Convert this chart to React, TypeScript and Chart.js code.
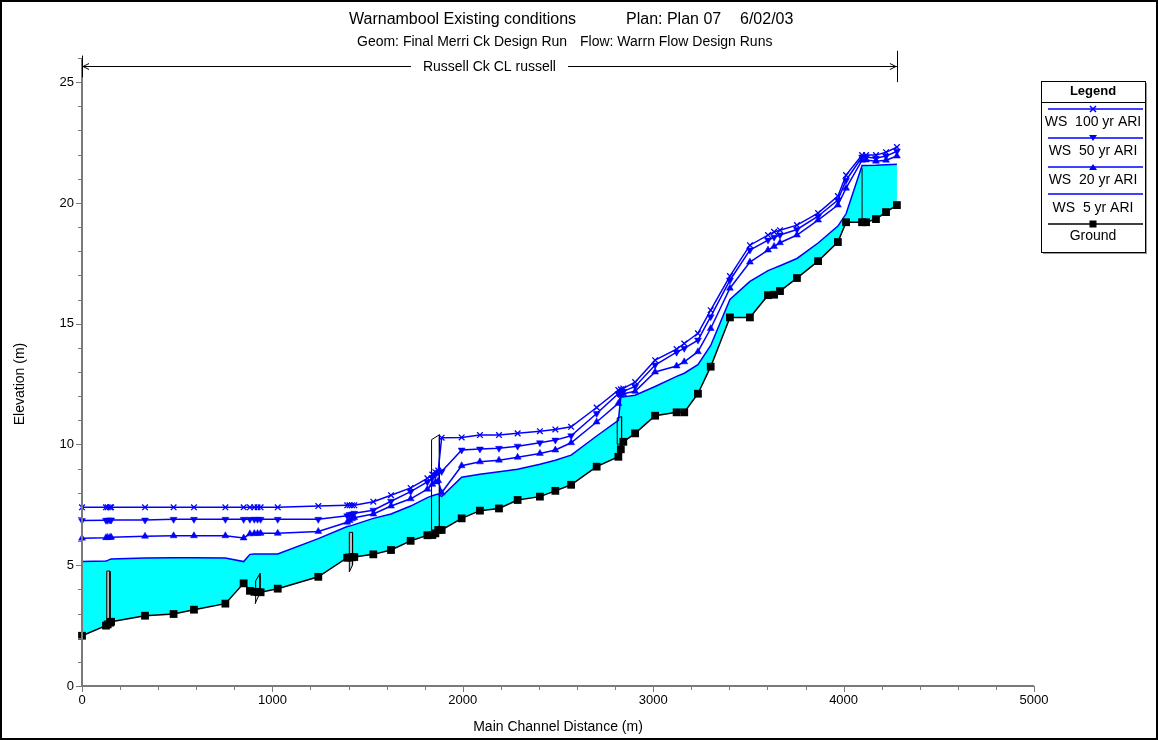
import React, { useEffect, useRef } from 'react';
import { Chart, registerables } from 'chart.js';

Chart.register(...registerables);

// ---- Data (main channel distance in m, elevation in m) ----
const stations = [
  0, 126, 135, 147, 153, 331, 481, 588, 753, 849, 882, 905, 922, 938, 1028, 1241,
  1393, 1405, 1418, 1430, 1530, 1623, 1726, 1814, 1840, 1856, 1871, 1889, 1994, 2090,
  2190, 2288, 2405, 2486, 2569, 2703, 2817, 2830, 2843, 2905, 3010, 3123, 3163, 3235,
  3302, 3403, 3508, 3603, 3635, 3666, 3755, 3866, 3970, 4013, 4097, 4118, 4170, 4223, 4280,
];
const ground = [
  2.08, 2.5, 2.55, 2.62, 2.66, 2.91, 2.98, 3.16, 3.41, 4.25, 3.94, 3.9, 3.89, 3.88, 4.03, 4.52,
  5.31, 5.32, 5.33, 5.34, 5.45, 5.63, 6.01, 6.24, 6.25, 6.32, 6.46, 6.46, 6.94, 7.26,
  7.35, 7.7, 7.84, 8.08, 8.33, 9.08, 9.49, 9.8, 10.11, 10.46, 11.19, 11.33, 11.33, 12.1,
  13.22, 15.26, 15.26, 16.18, 16.2, 16.35, 16.89, 17.59, 18.38, 19.2, 19.2, 19.2, 19.33, 19.62, 19.91,
];
const ws5 = [
  5.15, 5.18, 5.2, 5.24, 5.26, 5.3, 5.31, 5.31, 5.3, 5.15, 5.45, 5.46, 5.46, 5.46, 5.47, 6.1,
  6.6, 6.62, 6.65, 6.68, 6.94, 7.12, 7.45, 7.8, 7.88, 7.92, 7.95, 7.84, 8.64, 8.77,
  8.87, 8.97, 9.18, 9.35, 9.56, 10.35, 11.0, 11.95, 11.97, 12.04, 12.4, 12.82, 12.95, 13.3,
  14.1, 16.0, 16.75, 17.2, 17.3, 17.4, 17.7, 18.34, 19.04, 19.55, 21.55, 21.55, 21.56, 21.58, 21.6,
];
const ws20 = [
  6.12, 6.14, 6.15, 6.15, 6.16, 6.2, 6.22, 6.22, 6.22, 6.13, 6.3, 6.31, 6.31, 6.32, 6.32, 6.4,
  6.78, 6.85, 6.92, 6.97, 7.12, 7.45, 7.75, 8.15, 8.35, 8.45, 8.5, 8.0, 9.12, 9.28,
  9.35, 9.47, 9.63, 9.77, 10.07, 10.93, 11.7, 12.05, 12.1, 12.2, 13.0, 13.25, 13.42, 13.84,
  14.8, 16.47, 17.55, 18.05, 18.2, 18.35, 18.67, 19.29, 19.91, 20.61, 21.77, 21.78, 21.73, 21.77, 21.94,
];
const ws50 = [
  6.85, 6.86, 6.86, 6.87, 6.87, 6.87, 6.9, 6.9, 6.9, 6.9, 6.9, 6.9, 6.9, 6.9, 6.9, 6.9,
  7.05, 7.1, 7.12, 7.15, 7.28, 7.65, 8.05, 8.45, 8.62, 8.75, 8.85, 8.88, 9.77, 9.81,
  9.84, 9.93, 10.07, 10.18, 10.36, 11.28, 12.1, 12.15, 12.2, 12.4, 13.29, 13.82, 13.98, 14.32,
  15.29, 16.8, 18.05, 18.46, 18.58, 18.67, 18.9, 19.45, 20.12, 20.94, 21.9, 21.9, 21.85, 21.94, 22.14,
];
const ws100 = [
  7.4, 7.4, 7.4, 7.4, 7.4, 7.4, 7.4, 7.4, 7.4, 7.4, 7.4, 7.4, 7.4, 7.4, 7.4, 7.45,
  7.48, 7.48, 7.48, 7.48, 7.63, 7.9, 8.2, 8.6, 8.75, 8.85, 8.92, 10.28, 10.29, 10.39,
  10.39, 10.46, 10.55, 10.62, 10.73, 11.53, 12.25, 12.28, 12.32, 12.58, 13.49, 13.95, 14.18, 14.6,
  15.56, 16.97, 18.25, 18.67, 18.8, 18.87, 19.08, 19.58, 20.28, 21.15, 21.98, 21.98, 21.98, 22.1, 22.31,
];

// structure outlines (culverts / bridges), [distance, elevation]
const culvertA = [[130, 2.52], [130, 4.76], [147, 4.76], [147, 2.62], [130, 2.52]];
const culvertB = [[909, 3.42], [912, 4.35], [935, 4.66], [935, 3.85], [909, 3.42]];
const culvertC = [[1404, 4.73], [1404, 6.36], [1421, 6.36], [1421, 5.0], [1404, 4.73]];
const bridgeD = [[1836, 6.25], [1836, 10.2], [1877, 10.4], [1877, 6.46]];
const culvertE = [[2811, 10.0], [2811, 11.1], [2834, 11.15], [2834, 10.05], [2811, 10.0]];
const bridgeF = [[4097, 19.2], [4097, 21.44]];

const xTicks = [0, 1000, 2000, 3000, 4000, 5000];
const yTicks = [0, 5, 10, 15, 20, 25];
const legendLabels = ['WS  100 yr ARI', 'WS  50 yr ARI', 'WS  20 yr ARI', 'WS  5 yr ARI', 'Ground'];
const titleParts = ['Warnambool Existing conditions', 'Plan: Plan 07', '6/02/03'];
const subtitleParts = ['Geom: Final Merri Ck Design Run', 'Flow: Warrn Flow Design Runs'];
const reachLabel = 'Russell Ck CL russell';
const xTitle = 'Main Channel Distance (m)';
const yTitle = 'Elevation (m)';

const FONT = '"Liberation Sans", Arial, sans-serif';
const BLUE = '#0000FF';

const pts = (xs: number[], ys: number[]) => xs.map((x, i) => ({ x, y: ys[i] }));
const pairPts = (arr: number[][]) => arr.map(([x, y]) => ({ x, y }));

function drawMarker(ctx: CanvasRenderingContext2D, kind: string, x: number, y: number, color: string) {
  ctx.save();
  ctx.fillStyle = color;
  ctx.strokeStyle = color;
  ctx.lineWidth = 1.5;
  ctx.beginPath();
  if (kind === 'x') {
    ctx.moveTo(x - 3, y - 3); ctx.lineTo(x + 3, y + 3);
    ctx.moveTo(x + 3, y - 3); ctx.lineTo(x - 3, y + 3);
    ctx.stroke();
  } else if (kind === 'down') {
    ctx.moveTo(x - 4, y - 3); ctx.lineTo(x + 4, y - 3); ctx.lineTo(x, y + 3); ctx.closePath(); ctx.fill();
  } else if (kind === 'up') {
    ctx.moveTo(x - 4, y + 3); ctx.lineTo(x + 4, y + 3); ctx.lineTo(x, y - 3); ctx.closePath(); ctx.fill();
  } else if (kind === 'sq') {
    ctx.fillRect(x - 3.5, y - 3.5, 7, 7);
  }
  ctx.restore();
}

const decor = {
  id: 'decor',
  afterDraw(chart: any) {
    const { ctx } = chart;
    const xs = chart.scales.x;
    const ys = chart.scales.y;
    ctx.save();
    // outer frame
    ctx.strokeStyle = '#000';
    ctx.lineWidth = 2;
    ctx.strokeRect(1, 1, chart.width - 2, chart.height - 2);

    // axes
    ctx.strokeStyle = '#7a7a7a';
    ctx.lineWidth = 2;
    ctx.beginPath();
    ctx.moveTo(xs.left, ys.top);
    ctx.lineTo(xs.left, ys.bottom);
    ctx.lineTo(xs.right, ys.bottom);
    ctx.stroke();
    ctx.lineWidth = 1;
    ctx.beginPath();
    for (let v = 0; v <= 26; v++) {
      const py = Math.round(ys.getPixelForValue(v)) + 0.5;
      const len = v % 5 === 0 ? 6 : 4;
      ctx.moveTo(xs.left - len, py);
      ctx.lineTo(xs.left, py);
    }
    for (let v = 0; v <= 5000; v += 200) {
      const px = Math.round(xs.getPixelForValue(v)) + 0.5;
      const len = v % 1000 === 0 ? 6 : 4;
      ctx.moveTo(px, ys.bottom);
      ctx.lineTo(px, ys.bottom + len);
    }
    ctx.stroke();

    // titles
    ctx.fillStyle = '#000';
    ctx.textBaseline = 'middle';
    ctx.textAlign = 'left';
    ctx.font = `16px ${FONT}`;
    ctx.fillText(titleParts[0], 349, 20);
    ctx.fillText(titleParts[1], 626, 20);
    ctx.fillText(titleParts[2], 740, 20);
    ctx.font = `14px ${FONT}`;
    ctx.fillText(subtitleParts[0], 357, 42);
    ctx.fillText(subtitleParts[1], 580, 42);

    // reach annotation
    const x0 = xs.getPixelForValue(stations[0]);
    const x1 = xs.getPixelForValue(stations[stations.length - 1]);
    const ay = Math.round(ys.getPixelForValue(25.65)) + 0.5;
    const midX = (x0 + x1) / 2;
    ctx.font = `14px ${FONT}`;
    const tw = ctx.measureText(reachLabel).width;
    ctx.strokeStyle = '#000';
    ctx.lineWidth = 1;
    ctx.beginPath();
    ctx.moveTo(x0, ay); ctx.lineTo(midX - tw / 2 - 12, ay);
    ctx.moveTo(midX + tw / 2 + 12, ay); ctx.lineTo(x1, ay);
    // arrow heads
    ctx.moveTo(x0 + 7, ay - 3); ctx.lineTo(x0 + 1, ay); ctx.lineTo(x0 + 7, ay + 3);
    ctx.moveTo(x1 - 7, ay - 3); ctx.lineTo(x1 - 1, ay); ctx.lineTo(x1 - 7, ay + 3);
    ctx.stroke();
    ctx.beginPath();
    ctx.moveTo(Math.round(x0) + 0.5, ys.getPixelForValue(26.1));
    ctx.lineTo(Math.round(x0) + 0.5, ys.getPixelForValue(25.2));
    ctx.moveTo(Math.round(x1) + 0.5, ys.getPixelForValue(26.3));
    ctx.lineTo(Math.round(x1) + 0.5, ys.getPixelForValue(25.0));
    ctx.stroke();
    ctx.textAlign = 'center';
    ctx.fillText(reachLabel, midX, ay + 1);

    // axis titles
    ctx.font = `14px ${FONT}`;
    ctx.fillText(xTitle, (xs.left + xs.right) / 2, 727);
    ctx.save();
    ctx.translate(20, 384);
    ctx.rotate(-Math.PI / 2);
    ctx.fillText(yTitle, 0, 0);
    ctx.restore();

    // legend box
    const L = 1041, T = 81, R = 1145, B = 252;
    ctx.fillStyle = '#9a9a9a';
    ctx.fillRect(L + 2, T + 2, R - L, B - T);
    ctx.fillStyle = '#fff';
    ctx.fillRect(L, T, R - L, B - T);
    ctx.strokeStyle = '#000';
    ctx.lineWidth = 1;
    ctx.strokeRect(L + 0.5, T + 0.5, R - L, B - T);
    ctx.beginPath();
    ctx.moveTo(L, 102.5); ctx.lineTo(R, 102.5);
    ctx.stroke();
    const cx = (L + R) / 2;
    ctx.fillStyle = '#000';
    ctx.font = `bold 13px ${FONT}`;
    ctx.fillText('Legend', cx, 91);
    const lineYs = [109, 138, 167, 194, 224];
    const textYs = [122, 151, 180, 208, 236];
    const kinds = ['x', 'down', 'up', '', 'sq'];
    ctx.font = `14px ${FONT}`;
    legendLabels.forEach((lab, i) => {
      const col = i === 4 ? '#000' : BLUE;
      ctx.strokeStyle = col;
      ctx.lineWidth = 1.5;
      ctx.beginPath();
      ctx.moveTo(1048, lineYs[i]); ctx.lineTo(1143, lineYs[i]);
      ctx.stroke();
      if (kinds[i]) drawMarker(ctx, kinds[i], cx, lineYs[i], col);
      ctx.fillStyle = '#000';
      ctx.fillText(lab, cx, textYs[i]);
    });
    ctx.restore();
  },
};

export default function App() {
  const ref = useRef<HTMLCanvasElement>(null);
  useEffect(() => {
    document.body.style.margin = '0';
    const structStyle = (data: any[], fillCol: string | null) => ({
      type: 'line',
      data,
      borderColor: '#000',
      borderWidth: 1,
      pointRadius: 0,
      backgroundColor: fillCol || 'rgba(0,0,0,0)',
      fill: fillCol ? 'shape' : false,
      order: 4,
      tension: 0,
      clip: false,
    });
    const chart = new Chart(ref.current as HTMLCanvasElement, {
      type: 'line',
      data: {
        datasets: [
          {
            label: legendLabels[0], data: pts(stations, ws100), borderColor: BLUE, borderWidth: 1.5,
            pointStyle: 'crossRot', pointRadius: 4, pointBorderWidth: 1.3, pointBorderColor: BLUE,
            backgroundColor: BLUE, fill: false, order: 0, clip: false,
          },
          {
            label: legendLabels[1], data: pts(stations, ws50), borderColor: BLUE, borderWidth: 1.5,
            pointStyle: 'triangle', rotation: 180, pointRadius: 4, pointBackgroundColor: BLUE,
            pointBorderColor: BLUE, pointBorderWidth: 0.5, fill: false, order: 1, clip: false,
          },
          {
            label: legendLabels[2], data: pts(stations, ws20), borderColor: BLUE, borderWidth: 1.5,
            pointStyle: 'triangle', pointRadius: 4, pointBackgroundColor: BLUE,
            pointBorderColor: BLUE, pointBorderWidth: 0.5, fill: false, order: 2, clip: false,
          },
          {
            label: legendLabels[3], data: pts(stations, ws5), borderColor: BLUE, borderWidth: 1.5,
            pointRadius: 0, backgroundColor: '#00FFFF', fill: '+1', order: 5, clip: false,
          },
          {
            label: legendLabels[4], data: pts(stations, ground), borderColor: '#000', borderWidth: 1.5,
            pointStyle: 'rect', pointRadius: 5.5, pointBackgroundColor: '#000', pointBorderColor: '#000',
            pointBorderWidth: 0, fill: false, order: 3, clip: false,
          },
          structStyle(pairPts(culvertA), '#bdbdbd'),
          structStyle(pairPts(culvertB), null),
          structStyle(pairPts(culvertC), '#bdbdbd'),
          structStyle(pairPts(bridgeD), null),
          structStyle(pairPts(culvertE), null),
          structStyle(pairPts(bridgeF), null),
        ] as any,
      },
      options: {
        animation: false,
        responsive: false,
        devicePixelRatio: 1,
        events: [],
        elements: { line: { tension: 0 } },
        layout: { padding: { top: 58, right: 124, left: 0, bottom: 0 } },
        plugins: {
          legend: { display: false },
          title: { display: false },
          tooltip: { enabled: false },
        },
        scales: {
          x: {
            type: 'linear',
            min: 0,
            max: 5000,
            grid: { display: false, drawTicks: false },
            border: { display: false },
            afterFit: (s: any) => { s.height = 54; },
            afterBuildTicks: (s: any) => { s.ticks = xTicks.map((v) => ({ value: v })); },
            ticks: {
              color: '#000', padding: 7, font: { family: FONT, size: 13 }, maxRotation: 0, autoSkip: false,
              callback: (v: any) => String(v),
            },
          },
          y: {
            type: 'linear',
            min: 0,
            max: 26,
            grid: { display: false, drawTicks: false },
            border: { display: false },
            afterFit: (s: any) => { s.width = 82; },
            afterBuildTicks: (s: any) => { s.ticks = yTicks.map((v) => ({ value: v })); },
            ticks: {
              color: '#000', padding: 8, font: { family: FONT, size: 13 }, autoSkip: false,
              callback: (v: any) => String(v),
            },
          },
        },
      } as any,
      plugins: [decor],
    });
    return () => chart.destroy();
  }, []);
  return (
    <div style={{ position: 'absolute', left: 0, top: 0, width: 1158, height: 740, background: '#fff' }}>
      <canvas ref={ref} width={1158} height={740} style={{ width: 1158, height: 740, display: 'block' }} />
    </div>
  );
}
